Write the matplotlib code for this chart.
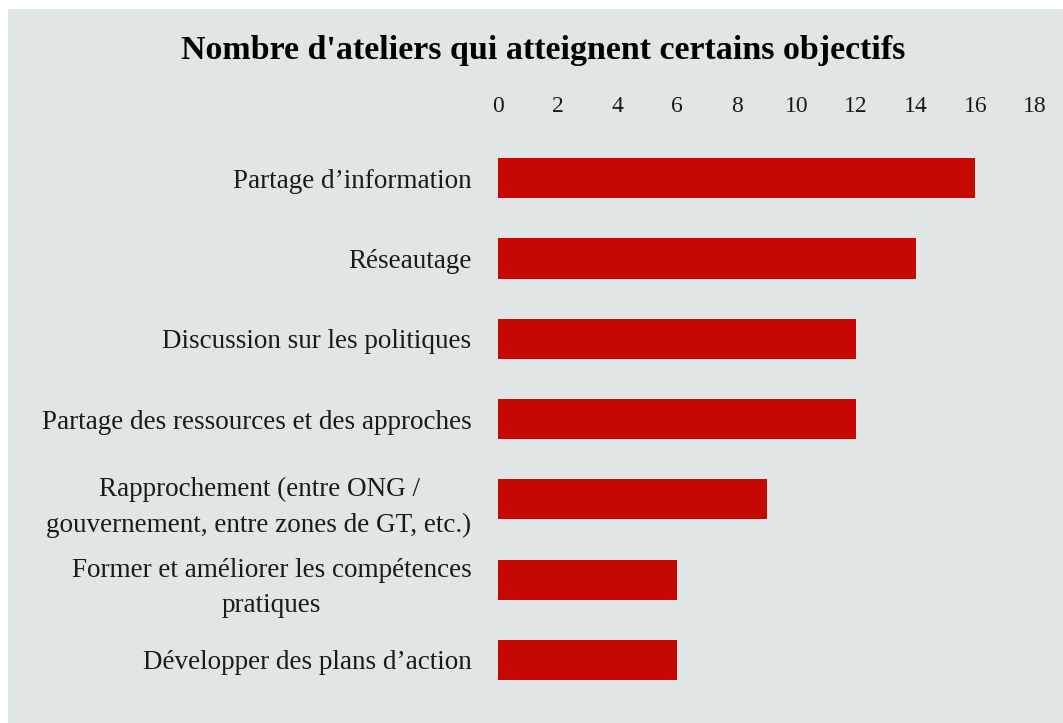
import matplotlib.pyplot as plt
from matplotlib.patches import Rectangle

categories = [
    "Partage d\u2019information",
    "R\u00e9seautage",
    "Discussion sur les politiques",
    "Partage des ressources et des approches",
    "Rapprochement (entre ONG /\ngouvernement, entre zones de GT, etc.)",
    "Former et am\u00e9liorer les comp\u00e9tences\npratiques",
    "D\u00e9velopper des plans d\u2019action",
]
values = [16, 14, 12, 12, 9, 6, 6]
xticks = [0, 2, 4, 6, 8, 10, 12, 14, 16, 18]

plt.rcParams['font.family'] = ['Liberation Serif', 'DejaVu Serif']

bg = '#e0e6e6'
fig = plt.figure(figsize=(10.63, 7.23), dpi=100)
fig.patch.set_facecolor('white')
# grey panel with thin white margin at top/left
fig.patches.append(Rectangle((8 / 1063, 0), 1, 1 - 9 / 723, transform=fig.transFigure,
                             facecolor=bg, edgecolor='none', zorder=-1))

ax = fig.add_axes([498 / 1063, 1 - 700 / 723, (1035 - 498) / 1063, (700 - 138) / 723])
ax.set_facecolor(bg)

ypos = list(range(len(categories)))
ax.barh(ypos, values, height=0.5, color='#c70800', zorder=3)
ax.set_ylim(len(categories) - 0.5, -0.5)
ax.set_xlim(0, 18)
ax.set_xticks(xticks)
ax.set_yticks(ypos)
ax.set_yticklabels(categories)
for lab in ax.get_yticklabels():
    lab.set_multialignment('center')
    lab.set_linespacing(1.55)

ax.xaxis.tick_top()
ax.tick_params(axis='x', length=0, pad=15, labelsize=17, labelcolor='#1a1a1a')
ax.tick_params(axis='y', length=0, pad=19, labelsize=19.5, labelcolor='#1a1a1a')
ax.grid(axis='x', color='#e9e4e4', linewidth=1, zorder=0)
for s in ax.spines.values():
    s.set_visible(False)

fig.text(543 / 1063, 1 - 51 / 723, "Nombre d'ateliers qui atteignent certains objectifs",
         ha='center', va='center', fontsize=24.5, fontweight='bold', color='black')

fig.savefig('out.png', dpi=100)
